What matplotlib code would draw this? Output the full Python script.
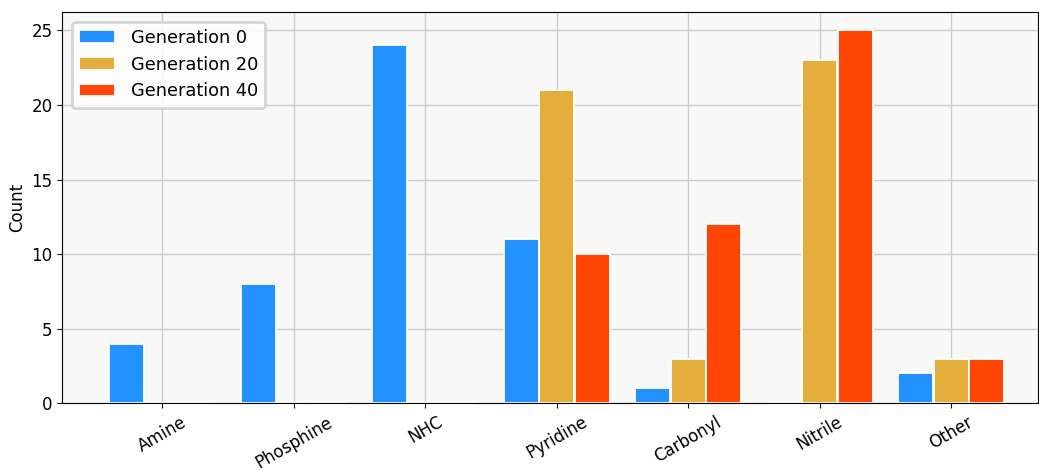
import numpy as np
import matplotlib
matplotlib.use("Agg")
import matplotlib.pyplot as plt

# Counts of ligand groups per generation
categories = ["Amine", "Phosphine", "NHC", "Pyridine", "Carbonyl", "Nitrile", "Other"]
gen_0 = [4, 8, 24, 11, 1, 0, 2]
gen_20 = [0, 0, 0, 21, 3, 23, 3]
gen_40 = [0, 0, 0, 10, 12, 25, 3]
series_labels = ["Generation 0", "Generation 20", "Generation 40"]
colors = ["#2390FF", "#E4AE3A", "#FF4503"]

fig, ax = plt.subplots(figsize=(10.39, 4.70), dpi=100)
ax.set_facecolor("#f8f8f8")
ax.grid(True, color="#cccccc", linewidth=1.0)
ax.set_axisbelow(True)

x = np.arange(len(categories))
offset = 0.27
width = 0.265
for i, (vals, lab, col) in enumerate(zip([gen_0, gen_20, gen_40], series_labels, colors)):
    ax.bar(x + (i - 1) * offset, vals, width, label=lab, color=col,
           edgecolor="white", linewidth=1.3)

ax.set_xticks(x)
ax.set_xticklabels(categories, rotation=30, fontsize=12)
ax.tick_params(axis="y", labelsize=12)
ax.set_ylabel("Count", fontsize=12)
ax.set_xlim(-0.76, 6.66)
ax.set_ylim(0, 26.25)

leg = ax.legend(loc="upper left", fontsize=12.8, framealpha=0.85, edgecolor="#d0d0d0",
                fancybox=True, handletextpad=0.9, borderaxespad=0.55)
leg.get_frame().set_linewidth(2)

fig.subplots_adjust(left=0.06, right=0.999, top=0.975, bottom=0.142)
fig.savefig("out.png", dpi=100)
